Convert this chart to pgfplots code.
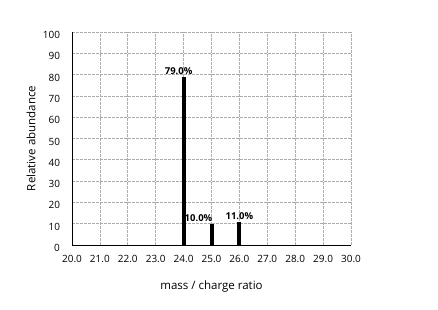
\documentclass[border=0pt]{standalone}
\usepackage{pgfplots}
\pgfplotsset{compat=1.18}
\usepackage{fontspec}
\setmainfont{Open Sans}
\begin{document}
\begin{tikzpicture}
\useasboundingbox (-72pt,-64pt) rectangle (366pt,245pt);
\begin{axis}[
  at={(0,0)}, anchor=south west,
  scale only axis, width=279pt, height=213pt,
  xmin=20, xmax=30, ymin=0, ymax=100,
  xtick={20,21,...,30}, ytick={0,10,...,100},
  xticklabel={\pgfmathprintnumber[fixed,fixed zerofill,precision=1]{\tick}},
  /pgf/number format/assume math mode=true,
  tick label style={font=\fontsize{10pt}{11pt}\selectfont},
  label style={font=\fontsize{11.5pt}{13pt}\selectfont},
  axis x line*=bottom, axis y line*=left,
  axis line style={black, line width=1pt, -},
  major tick length=0pt,
  grid=major,
  major grid style={gray!65, line width=0.8pt, dash pattern=on 3pt off 1pt},
  yticklabel style={xshift=-8.5pt, yshift=-3pt},
  xticklabel style={yshift=-7pt},
  xlabel={mass / charge ratio},
  ylabel={Relative abundance},
  xlabel style={at={(axis description cs:0.5,0)}, anchor=center, yshift=-42pt},
  ylabel style={at={(axis description cs:0,0.5)}, anchor=center, yshift=41pt},
  clip=false,
]
\addplot[ycomb, line width=4pt, black] coordinates {(24,79) (25,10) (26,11)};
\node[font=\fontsize{9.5pt}{11pt}\selectfont\bfseries, anchor=south, inner sep=2pt, xshift=-5pt] at (axis cs:24,79) {79.0\%};
\node[font=\fontsize{9.5pt}{11pt}\selectfont\bfseries, anchor=south, inner sep=2pt, xshift=-13pt] at (axis cs:25,10) {10.0\%};
\node[font=\fontsize{9.5pt}{11pt}\selectfont\bfseries, anchor=south, inner sep=2pt] at (axis cs:26,11) {11.0\%};
\end{axis}
\end{tikzpicture}
\end{document}
